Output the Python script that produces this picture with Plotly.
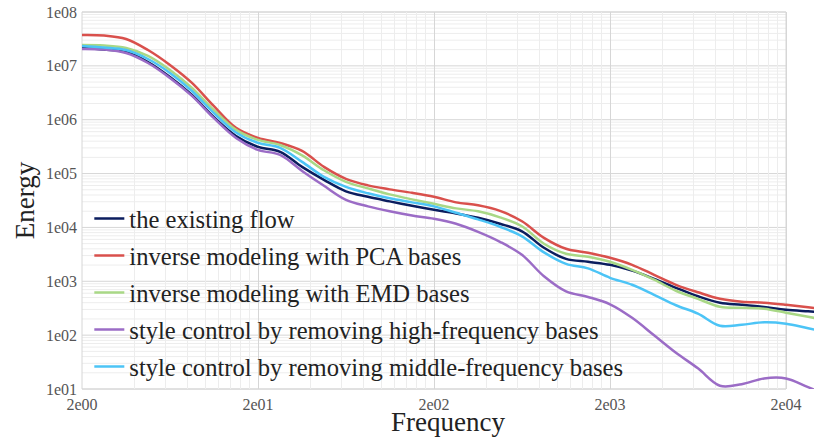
import math
import plotly.graph_objects as go

# frequencies (log-uniform samples)
freq = [2, 2.67, 3.56, 4.74, 6.32, 8.43, 11.2, 15, 20, 26.7, 35.6, 47.4, 63.2, 84.3, 112,
        150, 200, 267, 356, 474, 632, 843, 1125, 1500, 2000, 2670, 3560, 4740, 6320, 8430,
        11200, 15000, 20000, 26700, 35600]

existing_flow = [2.15e7, 2.01e7, 1.81e7, 1.18e7, 6.22e6, 2.88e6, 1.13e6, 5.00e5, 3.13e5, 2.53e5,
                 1.33e5, 7.64e4, 4.68e4, 3.70e4, 3.05e4, 2.52e4, 2.12e4, 1.82e4, 1.51e4, 1.17e4,
                 8.47e3, 4.19e3, 2.61e3, 2.30e3, 2.02e3, 1.58e3, 1.11e3, 757, 527, 399,
                 366, 332, 296, 277, 261]

pca_bases = [3.74e7, 3.66e7, 3.16e7, 1.97e7, 1.04e7, 4.82e6, 1.80e6, 7.05e5, 4.59e5, 3.71e5,
             2.64e5, 1.33e5, 7.98e4, 6.04e4, 5.09e4, 4.39e4, 3.70e4, 2.92e4, 2.57e4, 2.03e4,
             1.30e4, 6.41e3, 4.01e3, 3.38e3, 2.73e3, 2.02e3, 1.32e3, 861, 625, 473,
             417, 399, 366, 330, 296]

emd_bases = [2.44e7, 2.39e7, 2.15e7, 1.53e7, 8.39e6, 3.89e6, 1.52e6, 6.47e5, 4.22e5, 3.40e5,
             2.18e5, 1.15e5, 7.02e4, 5.31e4, 4.11e4, 3.32e4, 2.74e4, 2.26e4, 1.99e4, 1.54e4,
             1.05e4, 4.97e3, 3.24e3, 2.85e3, 2.30e3, 1.63e3, 1.07e3, 667, 473, 336,
             322, 309, 261, 219, 185]

no_high_freq = [2.06e7, 2.01e7, 1.73e7, 1.13e7, 5.97e6, 2.77e6, 1.08e6, 4.59e5, 2.75e5, 2.22e5,
                1.12e5, 5.92e4, 3.25e4, 2.46e4, 1.99e4, 1.66e4, 1.45e4, 1.17e4, 8.28e3, 5.41e3,
                3.10e3, 1.24e3, 650, 512, 374, 210, 99.5, 47.1, 24.2, 11.5,
                12.3, 15.7, 15.7, 10.8, 7.5]

no_mid_freq = [2.34e7, 2.19e7, 1.97e7, 1.34e7, 7.38e6, 3.42e6, 1.34e6, 5.81e5, 3.71e5, 3.00e5,
               1.65e5, 8.69e4, 5.66e4, 4.30e4, 3.47e4, 2.92e4, 2.46e4, 1.87e4, 1.41e4, 1.03e4,
               6.84e3, 3.44e3, 2.11e3, 1.74e3, 1.16e3, 861, 562, 359, 250, 149,
               156, 173, 163, 134, 111]

series = [
    ("the existing flow", existing_flow, "#0b1d5e"),
    ("inverse modeling with PCA bases", pca_bases, "#d9504c"),
    ("inverse modeling with EMD bases", emd_bases, "#a9d886"),
    ("style control by removing high-frequency bases", no_high_freq, "#9b6cc6"),
    ("style control by removing middle-frequency bases", no_mid_freq, "#4cc4f6"),
]

x_tickvals = [2, 20, 200, 2000, 20000]
x_ticktext = ["2e00", "2e01", "2e02", "2e03", "2e04"]
y_tickvals = [1e1, 1e2, 1e3, 1e4, 1e5, 1e6, 1e7, 1e8]
y_ticktext = ["1e01", "1e02", "1e03", "1e04", "1e05", "1e06", "1e07", "1e08"]

FONT = "Liberation Serif"
GRID = "#d6d6d6"
MINOR = "#ededed"

W, H = 814, 437
ml, mr, mt, mb = 82, 0, 12, 48
x_lo = math.log10(x_tickvals[0])
x_hi = math.log10(x_tickvals[-1])
grid_frac = 704 / (W - ml - mr)          # grid ends at 2e04, curves run on to the page edge
x_end = x_lo + (x_hi - x_lo) / grid_frac
y_lo, y_hi = 1, 8

minor_x = [k * 2 * 10 ** n for n in range(0, 5) for k in range(2, 10)]

fig = go.Figure()
for name, vals, color in series:
    fig.add_trace(go.Scatter(
        x=freq, y=vals, name=name, mode="lines", legendgroup=name,
        line=dict(color=color, width=2.5, shape="spline", smoothing=1.0),
    ))

# horizontal grid limited to the framed area (x from 2e00 to 2e04)
def ypaper(v):
    return (math.log10(v) - y_lo) / (y_hi - y_lo)

shapes = []
for n in range(y_lo, y_hi):
    for k in range(2, 10):
        yp = ypaper(k * 10 ** n)
        shapes.append(dict(type="line", xref="paper", yref="paper", x0=0, x1=grid_frac,
                           y0=yp, y1=yp, line=dict(color=MINOR, width=1), layer="below"))
for v in y_tickvals:
    yp = ypaper(v)
    shapes.append(dict(type="line", xref="paper", yref="paper", x0=0, x1=grid_frac,
                       y0=yp, y1=yp, line=dict(color=GRID, width=1), layer="below"))
shapes.append(dict(type="rect", xref="paper", yref="paper", x0=0, x1=grid_frac, y0=0, y1=1,
                   line=dict(color=GRID, width=1), fillcolor="rgba(0,0,0,0)", layer="below"))

fig.update_layout(
    width=W, height=H,
    margin=dict(l=ml, r=mr, t=mt, b=mb),
    paper_bgcolor="white",
    plot_bgcolor="white",
    font=dict(family=FONT, color="#333333"),
    xaxis=dict(
        type="log", range=[x_lo, x_end], automargin=False,
        tickmode="array", tickvals=x_tickvals, ticktext=x_ticktext,
        tickfont=dict(size=16, color="#555555", family=FONT),
        showgrid=True, gridcolor=GRID, gridwidth=1, showline=False,
        ticks="", ticklabelstandoff=4,
        minor=dict(tickmode="array", tickvals=minor_x, showgrid=True,
                   gridcolor=MINOR, gridwidth=1, ticks=""),
        title=dict(text="Frequency", font=dict(size=27, color="#222222", family=FONT), standoff=0),
        zeroline=False,
    ),
    yaxis=dict(
        type="log", range=[y_lo, y_hi], automargin=False,
        tickmode="array", tickvals=y_tickvals, ticktext=y_ticktext,
        tickfont=dict(size=16, color="#555555", family=FONT),
        showgrid=False, showline=False,
        ticks="", ticklabelstandoff=4,
        title=dict(text="Energy", font=dict(size=27, color="#222222", family=FONT), standoff=3),
        zeroline=False,
    ),
    shapes=shapes,
    showlegend=True,
    legend=dict(
        x=0.010, y=0.512, xanchor="left", yanchor="top",
        bgcolor="rgba(0,0,0,0)", borderwidth=0,
        font=dict(size=24.6, color="#222222", family=FONT),
        tracegroupgap=2, itemwidth=30,
    ),
)

fig.write_html("out.html", config={"displayModeBar": False},
               post_script="document.body.style.margin='0px';")
